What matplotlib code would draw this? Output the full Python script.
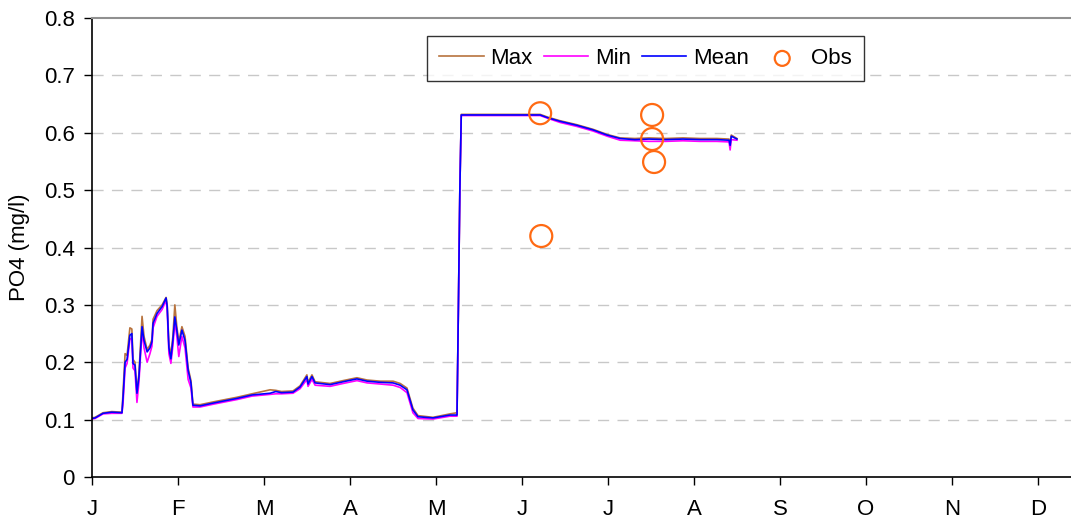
import numpy as np
import matplotlib
matplotlib.use('Agg')
import matplotlib.pyplot as plt

''' data read off the chart (day of year, PO4 mg/l) '''
days = [0, 1.1, 3.9, 7, 10.6, 11.0, 11.7, 12.4, 13.4, 14.1,
        14.5, 15.2, 15.9, 16.6, 17.7, 18.4, 19.5, 20.5, 21.2, 21.6,
        23.0, 24.8, 26.2, 26.6, 27.2, 27.9, 28.6, 29.3, 30.0, 30.7,
        31.8, 32.9, 34.0, 35.0, 35.7, 38.2, 43, 51.3, 56.6, 63,
        65, 67, 71.1, 73.6, 76, 76.4, 77.8, 78.9, 84.2, 88.8,
        93.7, 97.3, 102, 106.5, 109, 111.4, 113.5, 115.3, 120.6, 126.6,
        129.1, 129.6, 130.1, 130.6, 140, 150, 158.5, 161.3, 165.5, 171.5,
        177.2, 182.2, 186.8, 192, 197, 203, 209, 215, 221, 225.3,
        225.7, 226.1, 228.1]
mean = [0.102, 0.103, 0.111, 0.113, 0.112, 0.14, 0.2, 0.205, 0.247, 0.25,
        0.198, 0.195, 0.146, 0.175, 0.262, 0.238, 0.218, 0.225, 0.236, 0.268,
        0.285, 0.297, 0.312, 0.297, 0.225, 0.206, 0.238, 0.279, 0.256, 0.23,
        0.256, 0.238, 0.186, 0.164, 0.125, 0.124, 0.129, 0.137, 0.143, 0.146,
        0.149, 0.147, 0.148, 0.157, 0.175, 0.162, 0.175, 0.164, 0.161, 0.166,
        0.171, 0.167, 0.165, 0.164, 0.16, 0.152, 0.117, 0.105, 0.103, 0.108,
        0.108, 0.3, 0.5, 0.631, 0.631, 0.631, 0.631, 0.626, 0.62, 0.613,
        0.605, 0.596, 0.59, 0.588, 0.589, 0.588, 0.589, 0.588, 0.588, 0.587,
        0.578, 0.594, 0.589]
vmax = [0.103, 0.104, 0.112, 0.114, 0.113, 0.15, 0.215, 0.212, 0.26, 0.258,
        0.205, 0.2, 0.15, 0.18, 0.28, 0.245, 0.222, 0.23, 0.24, 0.275,
        0.29, 0.3, 0.313, 0.3, 0.232, 0.212, 0.245, 0.3, 0.262, 0.236,
        0.262, 0.245, 0.19, 0.168, 0.127, 0.126, 0.131, 0.139, 0.145, 0.152,
        0.151, 0.149, 0.15, 0.159, 0.178, 0.165, 0.178, 0.166, 0.163, 0.168,
        0.173, 0.169, 0.167, 0.167, 0.163, 0.155, 0.12, 0.107, 0.104, 0.11,
        0.112, 0.3, 0.5, 0.632, 0.632, 0.632, 0.632, 0.627, 0.621, 0.614,
        0.606, 0.597, 0.591, 0.59, 0.591, 0.59, 0.591, 0.59, 0.59, 0.589,
        0.582, 0.596, 0.59]
vmin = [0.101, 0.102, 0.11, 0.111, 0.111, 0.13, 0.19, 0.198, 0.24, 0.242,
        0.19, 0.185, 0.13, 0.165, 0.255, 0.225, 0.2, 0.215, 0.228, 0.26,
        0.28, 0.292, 0.308, 0.29, 0.215, 0.198, 0.228, 0.27, 0.245, 0.21,
        0.245, 0.225, 0.17, 0.155, 0.122, 0.122, 0.127, 0.135, 0.141, 0.144,
        0.145, 0.145, 0.146, 0.154, 0.17, 0.158, 0.17, 0.16, 0.158, 0.163,
        0.168, 0.164, 0.162, 0.16, 0.156, 0.147, 0.112, 0.102, 0.101, 0.106,
        0.106, 0.3, 0.5, 0.63, 0.63, 0.63, 0.63, 0.625, 0.618, 0.611,
        0.603, 0.594, 0.587, 0.586, 0.585, 0.585, 0.586, 0.585, 0.585, 0.584,
        0.57, 0.588, 0.587]

obs_days = [158.5, 158.9, 198.1, 198.1, 198.8]
obs_vals = [0.634, 0.42, 0.631, 0.589, 0.549]

month_labels = ['J', 'F', 'M', 'A', 'M', 'J', 'J', 'A', 'S', 'O', 'N', 'D']

plt.rcParams['font.family'] = ['Liberation Sans', 'DejaVu Sans']
fs = 16

fig = plt.figure(figsize=(10.71, 5.27), dpi=100)
ax = fig.add_axes([92 / 1071, 50 / 527, 1 - 92 / 1071, 459 / 527])

ax.plot(days, vmax, color='#B8733E', lw=1.2, label='Max')
ax.plot(days, vmin, color='#FF00FF', lw=1.2, label='Min')
ax.plot(days, mean, color='#0000FF', lw=1.2, label='Mean')
ax.scatter(obs_days, obs_vals, s=250, facecolors='none', edgecolors='#FF6A13',
           linewidths=1.6, label='Obs', zorder=5)

month_len = 365 / 12
ax.set_xticks([i * month_len for i in range(12)])
ax.set_xticklabels(month_labels)
ax.set_xlim(0, (1071 - 92) / 86 * month_len)
ax.set_ylim(0, 0.8)
ax.set_yticks(np.arange(0, 0.81, 0.1))
ax.set_yticklabels(['0', '0.1', '0.2', '0.3', '0.4', '0.5', '0.6', '0.7', '0.8'])
ax.tick_params(labelsize=fs, length=5.5, width=1, direction='out', colors='black')
ax.tick_params(axis='x', pad=10)
ax.tick_params(axis='y', pad=7)

# dashed grey gridlines, solid grey line along the top
for v in np.arange(0.1, 0.75, 0.1):
    ax.axhline(v, color='#C8C8C8', lw=1, ls=(0, (8, 6)), zorder=0)

ax.spines['right'].set_visible(False)
ax.spines['top'].set_color('#909090')
ax.spines['top'].set_linewidth(1.5)
ax.spines['left'].set_linewidth(1.2)
ax.spines['bottom'].set_linewidth(1.2)

ax.set_ylabel('PO4 (mg/l)', fontsize=fs, labelpad=10)

leg = ax.legend(loc='upper left', bbox_to_anchor=((427 - 92) / 979, (477 - 36) / 459),
                ncol=4, fontsize=fs, frameon=True, fancybox=False, handlelength=2.0,
                columnspacing=0.5, handletextpad=0.3, borderpad=0.55, borderaxespad=0,
                markerscale=0.68)
leg.get_frame().set_edgecolor('black')
leg.get_frame().set_linewidth(1)

fig.savefig('out.png', dpi=100)
